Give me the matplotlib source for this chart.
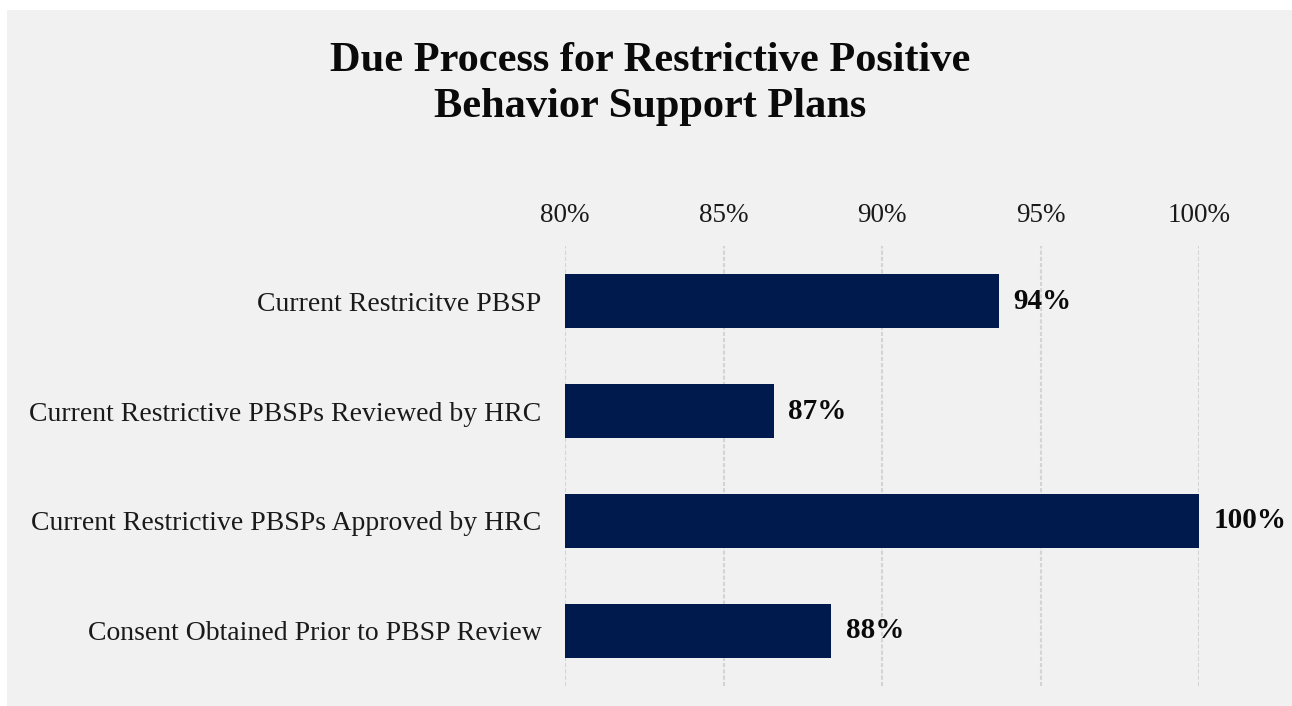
import matplotlib.pyplot as plt
from matplotlib.ticker import FuncFormatter

categories = [
    "Current Restricitve PBSP",
    "Current Restrictive PBSPs Reviewed by HRC",
    "Current Restrictive PBSPs Approved by HRC",
    "Consent Obtained Prior to PBSP Review",
]
values = [93.7, 86.6, 100.0, 88.4]
x_ticks = [80, 85, 90, 95, 100]

BG = "#f1f1f1"
BAR = "#001a4d"

plt.rcParams["font.family"] = ["Liberation Serif", "DejaVu Serif"]

fig = plt.figure(figsize=(12.92, 7.06), dpi=100)
fig.patch.set_facecolor("white")
# gray panel behind the chart
fig.patches.append(plt.Rectangle((7 / 1292, 0), 1, 1 - 10 / 706,
                                 transform=fig.transFigure,
                                 facecolor=BG, edgecolor="none", zorder=-10))

ax = fig.add_axes([565 / 1292, 1 - 686 / 706, (1199 - 565) / 1292, 440 / 706])
ax.set_facecolor(BG)

ypos = list(range(len(categories)))
ax.barh(ypos, [v - 80 for v in values], left=80, height=0.49,
        color=BAR, zorder=3)

for y, v in zip(ypos, values):
    ax.text(v + 0.45, y, f"{v:.0f}%", va="center", ha="left",
            fontsize=21, fontweight="bold", color="#0a0a0a")

ax.set_xlim(80, 100)
ax.set_ylim(len(categories) - 0.5, -0.5)
ax.set_xticks(x_ticks)
ax.xaxis.set_major_formatter(FuncFormatter(lambda x, _: f"{x:.0f}%"))
ax.xaxis.tick_top()
ax.tick_params(axis="x", length=0, pad=13, labelsize=19.5, colors="#1a1a1a")
ax.set_yticks(ypos)
ax.set_yticklabels(categories)
ax.tick_params(axis="y", length=0, pad=17, labelsize=20, colors="#1a1a1a")
ax.grid(axis="x", color="#d4d4d4", linewidth=1.5, linestyle=(0, (2, 1)),
        zorder=0)
for s in ax.spines.values():
    s.set_visible(False)

fig.text(650 / 1292, 1 - 84 / 706,
         "Due Process for Restrictive Positive\nBehavior Support Plans",
         ha="center", va="center", fontsize=30.5, fontweight="bold",
         linespacing=1.3, color="#0a0a0a")

fig.savefig("out.png", dpi=100, facecolor=fig.get_facecolor())
